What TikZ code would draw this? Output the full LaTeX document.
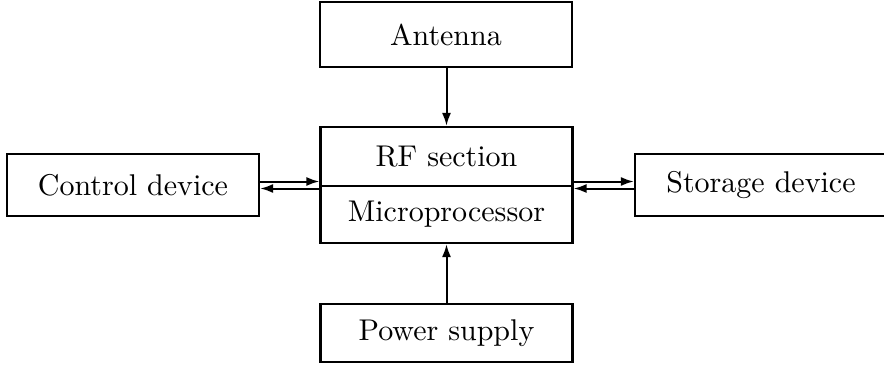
\documentclass[tikz,border=0pt]{standalone}
\usetikzlibrary{arrows.meta}

\newcommand{\bigtext}[1]{\scalebox{3.0}{#1}}

\tikzset{
  unitbox/.style={draw, line width=2.2pt, minimum width=252pt, inner sep=0pt,
    font=\fontsize{10}{12}\selectfont},
  link/.style={line width=2pt, -{Latex[length=13pt,width=9pt]}}
}

\begin{document}
\begin{tikzpicture}[x=1pt, y=-1pt]
  % page frame (cut on the right like the scan)
  \clip (0,0) rectangle (884,365);

  % boxes
  \node[unitbox, minimum height=65pt] (antenna) at (446,34.5) {\bigtext{Antenna}};
  \node[unitbox, minimum height=59pt] (rf) at (446.5,156.5) {\bigtext{RF section}};
  \node[unitbox, minimum height=57pt] (mp) at (446.5,214.5) {\bigtext{Microprocessor}};
  \node[unitbox, minimum height=62pt] (control) at (133,185) {\bigtext{Control device}};
  \node[unitbox, minimum height=62pt] (storage) at (761,185) {\bigtext{Storage device}};
  \node[unitbox, minimum height=58pt] (power) at (446.5,333) {\bigtext{Power supply}};

  % signal paths
  \draw[link] (antenna.south -| rf.north) -- (rf.north);
  \draw[link] (power.north) -- (mp.south);
  \draw[link] ([yshift=3.5pt]control.east) -- ([yshift=3.5pt]control.east -| rf.west);
  \draw[link] ([yshift=-3.5pt]control.east -| rf.west) -- ([yshift=-3.5pt]control.east);
  \draw[link] ([yshift=3.5pt]storage.west -| rf.east) -- ([yshift=3.5pt]storage.west);
  \draw[link] ([yshift=-3.5pt]storage.west) -- ([yshift=-3.5pt]storage.west -| rf.east);
\end{tikzpicture}
\end{document}
